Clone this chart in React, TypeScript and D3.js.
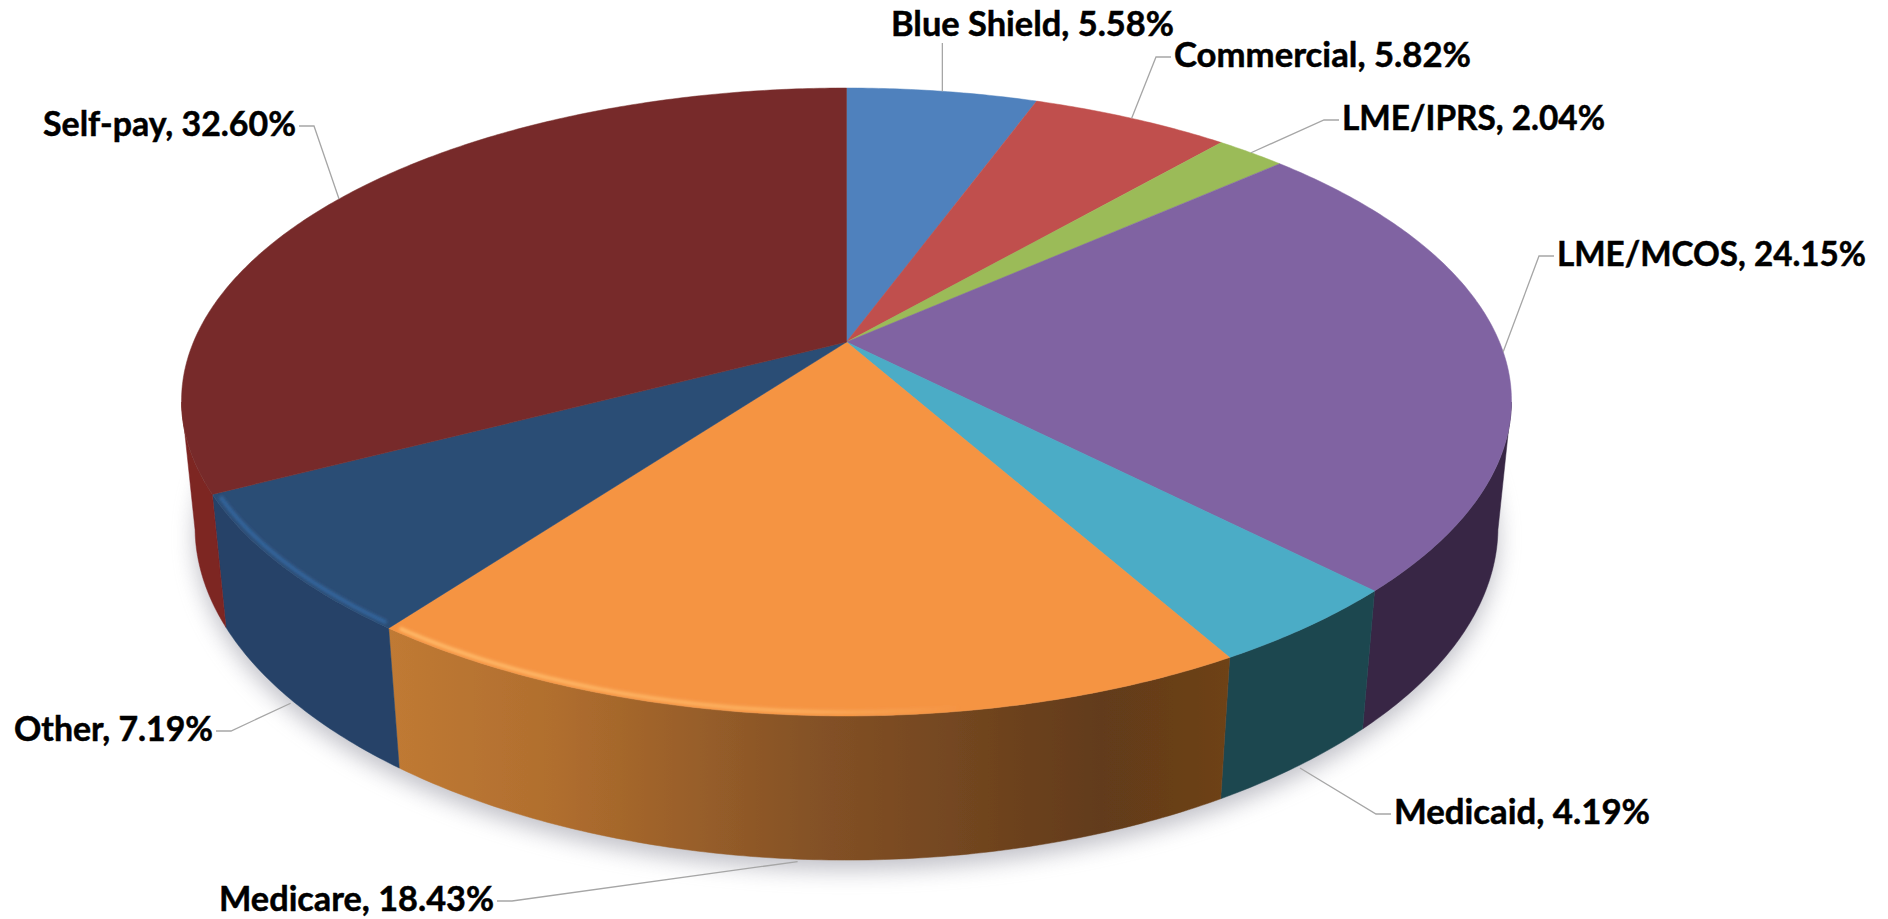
import React from "react";
import * as d3 from "d3";

// Payer mix, clockwise from twelve o'clock
const payers = ["Blue Shield", "Commercial", "LME/IPRS", "LME/MCOS", "Medicaid", "Medicare", "Other", "Self-pay"];
const shares = [5.58, 5.82, 2.04, 24.15, 4.19, 18.43, 7.19, 32.6];
const topColors = ["#4f81bd", "#c0504d", "#9bbb59", "#8064a2", "#4bacc6", "#f59443", "#2c4d75", "#772c2a"];
const wallColors = ["#2f4d71", "#73302e", "#5d7035", "#372744", "#1f4650", "#8a5527", "#254268", "#7d2523"];

// Label placement: text start and baseline, leader elbow offset from the text
const labelX = [891, 1174, 1342, 1557, 1394, 219, 14, 43];
const labelY = [36, 67, 130, 266, 824, 911, 741, 136];
const elbowGap = [0, 18, 18, 18, 18, 18, 18, 18];
const labelWidths = [283, 297, 263, 309, 256, 275, 199, 253];

const W = 1888;
const H = 919;

// Perspective projection of the disc: z = 0 is the top face, z = 1 the underside
const cx = 846.5;
const cy = 342;
const a = 653;
const b = 302.5;
const k = 0.191;
const depthW = 0.02;
const depthY = 127;
const frontNarrowing = 0.012;

function project(theta: number, r: number, z: number): [number, number] {
  const u = r * Math.sin(theta);
  const v = -r * Math.cos(theta);
  const w = 1 - k * v + depthW * z;
  const narrow = v > 0 ? 1 - frontNarrowing * v * v : 1;
  return [cx + (a * u * narrow) / w, cy + (b * v + depthY * z) / w];
}

const line = d3.line<[number, number]>();

function arcPoints(t0: number, t1: number, r: number, z: number): [number, number][] {
  const n = Math.max(2, Math.ceil(Math.abs(t1 - t0) / 0.01));
  return d3.range(n + 1).map((i) => project(t0 + ((t1 - t0) * i) / n, r, z));
}

// The wall is visible between the two tangent generators of the disc
const WALL_FROM = Math.acos(-k);
const WALL_TO = Math.PI * 2 - Math.acos(-k);

function labelBox(i: number) {
  return { left: labelX[i], right: labelX[i] + labelWidths[i], midY: labelY[i] - 10 };
}

export default function App() {
  const arcs = d3.pie<number>().sort(null).value((d) => d)(shares);
  const full = arcPoints(0, Math.PI * 2, 1, 1);

  return (
    <svg
      width={W}
      height={H}
      viewBox={`0 0 ${W} ${H}`}
      style={{ position: "absolute", left: 0, top: 0, display: "block", background: "#fff" }}
    >
      <defs>
        <filter id="shadowBlur" x="-10%" y="-10%" width="120%" height="120%">
          <feGaussianBlur stdDeviation="11" />
        </filter>
        <filter id="soft" x="-5%" y="-5%" width="110%" height="110%">
          <feGaussianBlur stdDeviation="0.7" />
        </filter>
        <filter id="rimBlur" x="-5%" y="-20%" width="110%" height="140%">
          <feGaussianBlur stdDeviation="1.8" />
        </filter>
        <linearGradient id="wallOrange" gradientUnits="userSpaceOnUse" x1="388" y1="0" x2="1228" y2="0">
          <stop offset="0" stopColor="#c07a34" />
          <stop offset="0.2" stopColor="#b06e2e" />
          <stop offset="0.5" stopColor="#855226" />
          <stop offset="0.85" stopColor="#623b1a" />
          <stop offset="1" stopColor="#6e4218" />
        </linearGradient>
        <linearGradient id="rimOrange" gradientUnits="userSpaceOnUse" x1="388" y1="0" x2="960" y2="0">
          <stop offset="0" stopColor="#ffb968" stopOpacity="1" />
          <stop offset="0.7" stopColor="#ffb968" stopOpacity="0.7" />
          <stop offset="1" stopColor="#ffb968" stopOpacity="0" />
        </linearGradient>
      </defs>

      <path
        d={line(full) + "Z"}
        transform="translate(0 10)"
        fill="#8f8f9c"
        opacity={0.55}
        filter="url(#shadowBlur)"
      />

      <g filter="url(#soft)">
        {/* Side walls of the slices facing the viewer */}
        {arcs.map((s, i) => {
          const t0 = Math.max(s.startAngle, WALL_FROM);
          const t1 = Math.min(s.endAngle, WALL_TO);
          if (t1 <= t0) return null;
          const pts = [...arcPoints(t0, t1, 1, 0), ...arcPoints(t1, t0, 1, 1)];
          const fill = payers[i] === "Medicare" ? "url(#wallOrange)" : wallColors[i];
          return <path key={payers[i]} d={line(pts) + "Z"} fill={fill} stroke={fill} strokeWidth={0.5} />;
        })}

        {/* Top faces */}
        {arcs.map((s, i) => {
          const pts = [[cx, cy] as [number, number], ...arcPoints(s.startAngle, s.endAngle, 1, 0)];
          return <path key={payers[i]} d={line(pts) + "Z"} fill={topColors[i]} stroke={topColors[i]} strokeWidth={0.5} />;
        })}

        {/* Bevel highlights along the front rim */}
        {arcs.map((s, i) => {
          if (payers[i] !== "Medicare" && payers[i] !== "Other") return null;
          const inset = 0.012;
          const pts = arcPoints(s.startAngle + inset, s.endAngle - inset, 0.992, 0);
          return (
            <path
              key={payers[i]}
              d={line(pts) ?? ""}
              fill="none"
              stroke={payers[i] === "Medicare" ? "url(#rimOrange)" : "#33659c"}
              strokeWidth={4}
              filter="url(#rimBlur)"
            />
          );
        })}
      </g>

      {/* Leader lines run from the slice's mid angle to its label */}
      {arcs.map((s, i) => {
        const mid = (s.startAngle + s.endAngle) / 2;
        const front = Math.cos(mid) < -0.2;
        const anchor = project(mid, front ? 1.005 : 1, front ? 1 : 0);
        const box = labelBox(i);
        const side = anchor[0] < box.left ? box.left : box.right;
        const dir = side === box.left ? -1 : 1;
        const pts: [number, number][] =
          payers[i] === "Blue Shield"
            ? [[anchor[0], labelY[i] + 7], anchor]
            : [
                [side + dir * 3, box.midY],
                [side + dir * elbowGap[i], box.midY],
                anchor,
              ];
        return <path key={payers[i]} d={line(pts) ?? ""} fill="none" stroke="#a6a6a6" strokeWidth={1.3} />;
      })}

      {payers.map((p, i) => (
        <text
          key={p}
          x={labelX[i]}
          y={labelY[i]}
          textLength={labelWidths[i]}
          lengthAdjust="spacingAndGlyphs"
          fontFamily="Lato, 'Noto Sans', sans-serif"
          fontWeight={700}
          fontSize={35}
          fill="#000"
          stroke="#000"
          strokeWidth={0.5}
        >
          {`${p}, ${shares[i].toFixed(2)}%`}
        </text>
      ))}
    </svg>
  );
}
